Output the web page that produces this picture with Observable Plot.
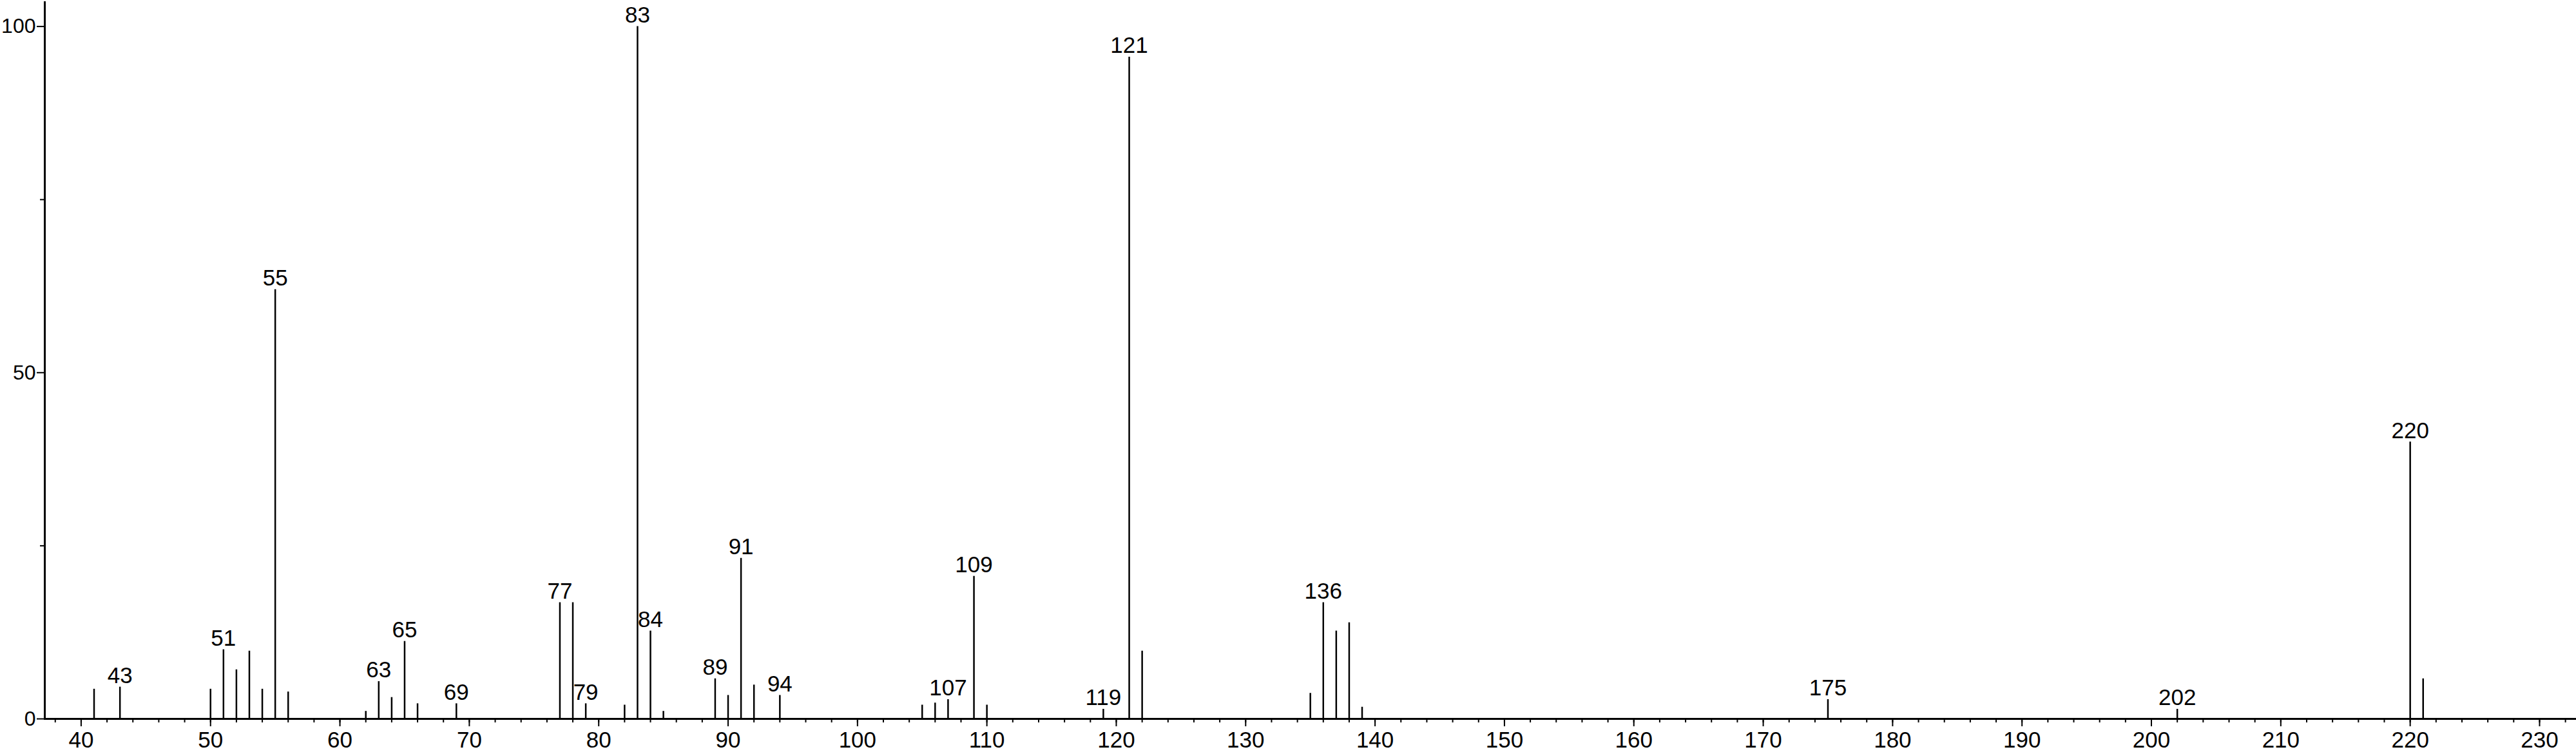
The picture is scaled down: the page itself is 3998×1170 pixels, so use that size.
<!DOCTYPE html>
<html>
<head>
<meta charset="utf-8">
<script src="https://cdn.jsdelivr.net/npm/d3@7"></script>
<script src="https://cdn.jsdelivr.net/npm/@observablehq/plot@0.6"></script>
<style>
  html, body { margin: 0; padding: 0; background: #fff; }
  #chart svg { display: block; }
</style>
</head>
<body>
<div id="chart"></div>
<script>
// m/z values of the peaks
const mz = [41, 43, 50, 51, 52, 53, 54, 55, 56, 62, 63, 64, 65, 66, 69,
            77, 78, 79, 82, 83, 84, 85, 89, 90, 91, 92, 94,
            105, 106, 107, 109, 110, 119, 121, 122,
            135, 136, 137, 138, 139, 175, 202, 220, 221];
// relative intensities (%)
const intensity = [4.3, 4.6, 4.3, 10.0, 7.1, 9.8, 4.3, 62.0, 3.9, 1.1, 5.4, 3.1, 11.2, 2.2, 2.2,
                   16.8, 16.8, 2.2, 2.0, 100, 12.7, 1.1, 5.8, 3.4, 23.2, 4.9, 3.4,
                   2.0, 2.3, 2.8, 20.6, 2.0, 1.4, 95.6, 9.8,
                   3.7, 16.8, 12.7, 13.9, 1.7, 2.8, 1.4, 40.0, 5.8];
// peaks that carry a label
const labeled = [43, 51, 55, 63, 65, 69, 77, 79, 83, 84, 89, 91, 94,
                 107, 109, 119, 121, 136, 175, 202, 220];
// axis ticks
const xMajorTicks = d3.range(40, 231, 10);
const xMinorTicks = d3.range(38, 233, 2);
const yMajorTicks = [0, 50, 100];
const yMinorTicks = [25, 75];

const peaks = mz.map((m, i) => ({mz: m, value: intensity[i]}));
const labeledPeaks = peaks.filter(d => labeled.includes(d.mz));

const font = "'Liberation Sans', Arial, Helvetica, sans-serif";

const chart = Plot.plot({
  width: 3998,
  height: 1170,
  marginLeft: 69,
  marginRight: 0,
  marginTop: 3,
  marginBottom: 55,
  x: {domain: [37.19, 232.84]},
  y: {domain: [0, 103.5]},
  style: {fontFamily: font, fontSize: "35px", color: "#000", background: "#fff"},
  marks: [
    Plot.axisX({ticks: xMinorTicks, tickSize: 6, text: null, strokeWidth: 2, label: null}),
    Plot.axisX({ticks: xMajorTicks, tickSize: 12, tickPadding: 8, strokeWidth: 2, fontSize: 35, label: null}),
    Plot.axisY({ticks: yMinorTicks, tickSize: 7, text: null, strokeWidth: 2, label: null}),
    Plot.axisY({ticks: yMajorTicks, tickSize: 12, tickPadding: 2, strokeWidth: 2, fontSize: 32, label: null}),
    Plot.ruleX(peaks, {x: "mz", y1: 0, y2: "value", stroke: "#000", strokeWidth: 2.5}),
    Plot.frame({anchor: "left", stroke: "#000", strokeWidth: 3}),
    Plot.frame({anchor: "bottom", stroke: "#000", strokeWidth: 3}),
    Plot.text(labeledPeaks, {x: "mz", y: "value", text: d => String(d.mz), dy: -6,
      lineAnchor: "bottom", fontSize: 35, fill: "#000"})
  ]
});
document.getElementById("chart").appendChild(chart);
</script>
</body>
</html>
